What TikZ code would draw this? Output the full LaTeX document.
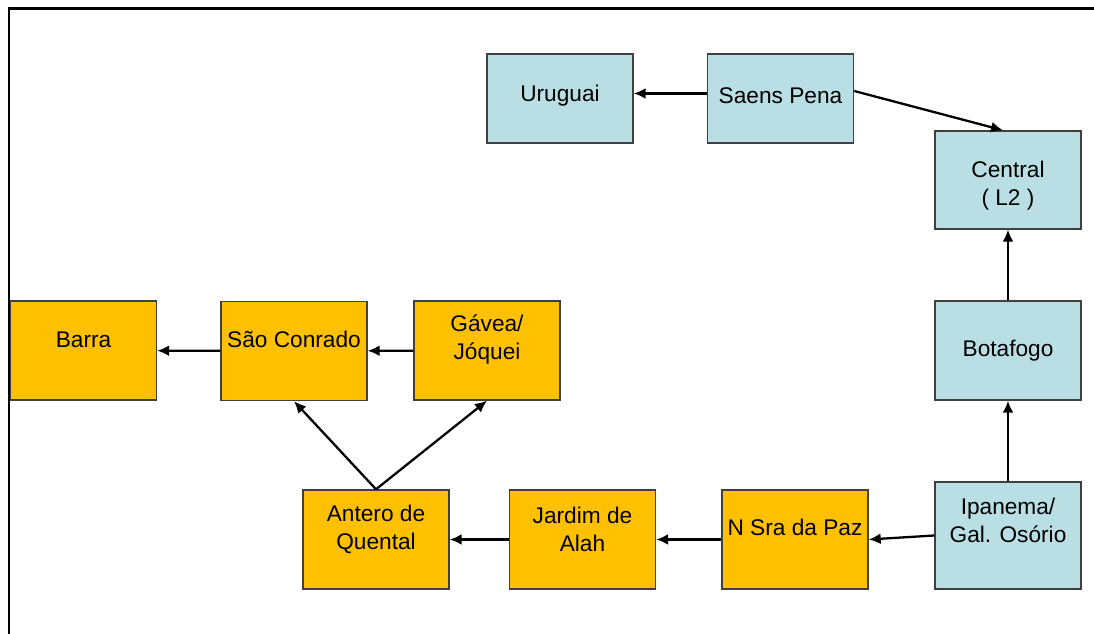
\documentclass[tikz,border=0pt]{standalone}
\usepackage{fontspec}
\setmainfont{Liberation Sans}
\usetikzlibrary{arrows.meta}

\definecolor{linhaazul}{RGB}{185,222,228}
\definecolor{linhalaranja}{RGB}{255,192,0}
\definecolor{borda}{RGB}{64,64,64}

\begin{document}
\begin{tikzpicture}[
    station/.style={
        draw=borda,
        line width=0.8pt,
        minimum width=2.92cm,
        minimum height=1.98cm,
        inner sep=0pt,
    },
    blue/.style={
        station,
        fill=linhaazul,
    },
    orange/.style={
        station,
        fill=linhalaranja,
    },
    every label/.style={
        font=\fontsize{12.9}{15.9}\selectfont,
        align=center,
        inner sep=0pt,
    },
    link/.style={
        line width=1.3pt,
        -{Latex[length=2.4mm, width=2.2mm]},
    }
]
    \useasboundingbox (0,0) rectangle (21.88,12.68);

    % Frame
    \draw[line width=1.7pt] (0.18,0) -- (0.18,12.5) -- (21.88,12.5);

    % Line 2 (blue)
    \node[blue, minimum height=1.78cm, label={[yshift=0.6mm]center:Uruguai}] (uruguai) at (11.2,10.71) {};
    \node[blue, minimum height=1.78cm, label={[yshift=0.6mm]center:Saens Pena}] (saens) at (15.61,10.71) {};
    \node[blue, minimum height=1.96cm, label={[yshift=-1.1mm]center:Central\\( L2 )}] (central) at (20.16,9.08) {};
    \node[blue, label=center:Botafogo] (botafogo) at (20.16,5.67) {};
    \node[blue, minimum height=2.14cm, label={[yshift=3.1mm]center:Ipanema/\\Gal. Osório}] (ipanema) at (20.16,1.97) {};

    % Line 4 (orange)
    \node[orange, label={[yshift=2.4mm]center:N Sra da Paz}] (nsra) at (15.9,1.89) {};
    \node[orange, label={[yshift=2mm]center:Jardim de\\Alah}] (jardim) at (11.65,1.89) {};
    \node[orange, label={[yshift=2mm]center:Antero de\\Quental}] (antero) at (7.52,1.89) {};
    \node[orange, label={[yshift=2.3mm]center:São Conrado}] (saoconrado) at (5.88,5.66) {};
    \node[orange, label={[yshift=2.2mm]center:Gávea/\\Jóquei}] (gavea) at (9.74,5.67) {};
    \node[orange, label={[yshift=2.2mm]center:Barra}] (barra) at (1.67,5.67) {};

    % Connections
    \draw[link] ([yshift=1mm]saens.west) -- ([yshift=1mm]uruguai.east);
    \draw[link] ([yshift=0.15cm]saens.east) -- ([xshift=-1mm]central.north);
    \draw[link] (botafogo) -- (central);
    \draw[link] (ipanema) -- (botafogo);
    \draw[link] (ipanema.west) -- (nsra.east);
    \draw[link] (nsra) -- (jardim);
    \draw[link] (jardim) -- (antero);
    \draw[link] (antero.north) -- (saoconrado.south);
    \draw[link] (antero.north) -- (gavea.south);
    \draw[link] (gavea) -- (saoconrado);
    \draw[link] (saoconrado) -- (barra);
\end{tikzpicture}
\end{document}
